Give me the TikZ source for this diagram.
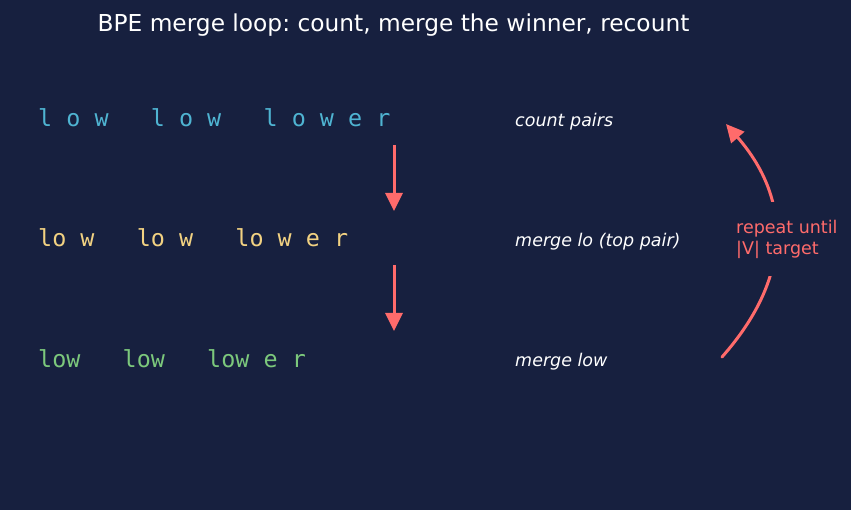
\documentclass[tikz,border=0pt]{standalone}
\usepackage{fontspec}
\setmainfont{DejaVu Sans}
\newfontfamily\tokfont{DejaVu Sans Mono}
\usepackage{xcolor}
\usepackage{tikz}
\usetikzlibrary{arrows.meta}
\frenchspacing

\definecolor{bgnavy}{HTML}{17203F}
\definecolor{tokcyan}{HTML}{4FB4D2}
\definecolor{tokyellow}{HTML}{F2D282}
\definecolor{tokgreen}{HTML}{7CC87C}
\definecolor{arrowred}{HTML}{FF6B6B}

\begin{document}
\begin{tikzpicture}[x=1pt,y=-1pt,
  tokens/.style={anchor=base west,inner sep=0pt,font=\tokfont\fontsize{23.4}{28}\selectfont},
  note/.style={anchor=base west,inner sep=0pt,text=white,font=\itshape\fontsize{17.5}{21}\selectfont},
  flow/.style={draw=arrowred,line width=3pt,-{Triangle[length=18pt,width=17pt]}}]

% Background and frame
\fill[bgnavy] (0,0) rectangle (851,510);
\useasboundingbox (0,0) rectangle (851,510);

% Title
\node[anchor=base,inner sep=0pt,text=white,font=\fontsize{23.3}{28}\selectfont] (title) at (393.5,32) {BPE merge loop: count, merge the winner, recount};

% Token rows
\node[tokens,text=tokcyan] (row1) at (38,127) {l o w\ \ \ l o w\ \ \ l o w e r};
\node[tokens,text=tokyellow] (row2) at (38,247) {lo w\ \ \ lo w\ \ \ lo w e r};
\node[tokens,text=tokgreen] (row3) at (38,367) {low\ \ \ low\ \ \ low e r};

% Step notes
\node[note] (cnt) at (515,126.5) {count pairs};
\node[note] (mlo) at (515,246.5) {merge lo (top pair)};
\node[note] (mlow) at (515,366.5) {merge low};

% Down arrows between the rows
\coordinate (d1a) at (394,145);
\coordinate (d1b) at (394,211);
\coordinate (d2a) at (394,265);
\coordinate (d2b) at (394,331);
\draw[flow] (d1a) -- (d1b);
\draw[flow] (d2a) -- (d2b);

% The loop back to the top
\coordinate (loopA) at (722,357);
\coordinate (loopB) at (726,124);
\draw[flow,line cap=round] (loopA) .. controls (791,279) and (793,201) .. (loopB);
\node[fill=bgnavy,text=arrowred,align=left,anchor=west,inner xsep=6pt,inner ysep=18pt,font=\fontsize{17.5}{21}\selectfont] (rep) at (730,239) {repeat until\\|V| target};

\end{tikzpicture}
\end{document}
